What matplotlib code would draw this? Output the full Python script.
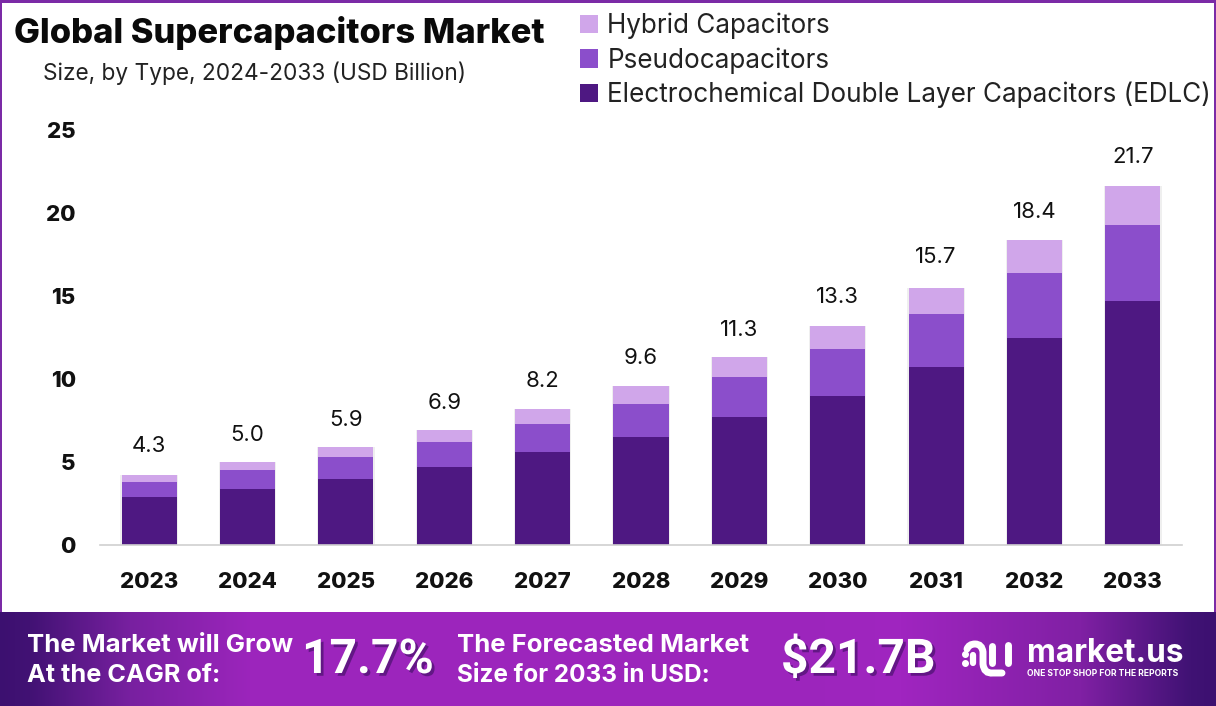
import numpy as np
import matplotlib
matplotlib.use("Agg")
import matplotlib.pyplot as plt
from matplotlib.patches import Rectangle, PathPatch
from matplotlib.path import Path
import matplotlib.patheffects as pe

years = ["2023", "2024", "2025", "2026", "2027", "2028", "2029", "2030", "2031", "2032", "2033"]
edlc = [2.9, 3.4, 4.0, 4.7, 5.6, 6.5, 7.7, 9.0, 10.7, 12.5, 14.7]
pseudo = [0.9, 1.1, 1.3, 1.5, 1.7, 2.0, 2.4, 2.8, 3.2, 3.9, 4.6]
hybrid = [0.4, 0.5, 0.6, 0.7, 0.9, 1.1, 1.2, 1.4, 1.6, 2.0, 2.3]
totals = ["4.3", "5.0", "5.9", "6.9", "8.2", "9.6", "11.3", "13.3", "15.7", "18.4", "21.7"]
yticks = [0, 5, 10, 15, 20, 25]

W, H = 1216, 706
FONT = "Inter"
plt.rcParams["font.family"] = [FONT, "DejaVu Sans"]

fig = plt.figure(figsize=(W / 100, H / 100), dpi=100, facecolor="white")

# overlay in pixel coords for border and banner
bg = fig.add_axes([0, 0, 1, 1])
bg.axis("off")

# banner gradient
stops_x = [0, 30, 130, 250, 800, 900, 1080, 1190, 1216]
r = [0x3c, 0x42, 0x78, 0x9c, 0x9c, 0xa0, 0x80, 0x40, 0x3c]
g = [0x10, 0x12, 0x20, 0x25, 0x25, 0x25, 0x20, 0x12, 0x10]
b = [0x70, 0x74, 0xa0, 0xbc, 0xbc, 0xc0, 0xa4, 0x74, 0x70]
xs = np.arange(W)
grad = np.stack([np.interp(xs, stops_x, c) / 255 for c in (r, g, b)], axis=-1)[None, :, :]
bg.imshow(grad, extent=(0, W, 706, 612), aspect="auto", zorder=1)
bg.set_xlim(0, W)
bg.set_ylim(H, 0)

# border
border = "#7b2aa6"
bg.add_patch(Rectangle((0, 0), W, 2.5, color=border, lw=0, zorder=2))
bg.add_patch(Rectangle((0, 0), 2, 612, color=border, lw=0, zorder=2))
bg.add_patch(Rectangle((W - 2, 0), 2, 612, color=border, lw=0, zorder=2))

# chart
ax = fig.add_axes([100 / W, 1 - 545 / H, 1082 / W, 415 / H], facecolor="none")
x = np.arange(len(years))
bottom2 = np.array(edlc) + np.array(pseudo)
tops = bottom2 + np.array(hybrid)
ax.bar(x, tops, width=0.585, color="#999999", alpha=0.15, zorder=1)
b1 = ax.bar(x, edlc, width=0.56, color="#4e1882", label="Electrochemical Double Layer Capacitors (EDLC)", zorder=2)
b2 = ax.bar(x, pseudo, width=0.56, bottom=edlc, color="#8b4ecb", label="Pseudocapacitors", zorder=2)
b3 = ax.bar(x, hybrid, width=0.56, bottom=bottom2, color="#d0a6ea", label="Hybrid Capacitors", zorder=2)
for xi, lab in zip(x, totals):
    ax.text(xi, float(lab) + 1.05, lab, ha="center", va="bottom", fontsize=16, color="#111111")

ax.set_xlim(-0.5, 10.5)
ax.set_ylim(0, 25)
ax.set_xticks(x, years, fontsize=16, fontweight="heavy", color="#111111")
ax.set_yticks(yticks, [str(t) for t in yticks], fontsize=16, fontweight="heavy", color="#111111")
ax.tick_params(length=0)
ax.tick_params(axis="x", pad=19.5)
ax.tick_params(axis="y", pad=17.5)
for s in ["top", "right", "left"]:
    ax.spines[s].set_visible(False)
ax.spines["bottom"].set_color("#d0d0d0")
ax.spines["bottom"].set_linewidth(1.2)

leg = fig.legend(handles=[b3, b2, b1], loc="upper left", bbox_to_anchor=(559 / W, 1 + 8 / H),
                 frameon=False, fontsize=18.8, handlelength=0.7, handleheight=0.7,
                 handletextpad=0.35, labelspacing=0.3, borderpad=0.3, labelcolor="#222222")

# title
bg.text(14, 33, "Global Supercapacitors Market", fontsize=24.85, fontweight="heavy", va="center", color="#0a0a0a", zorder=3)
bg.text(43, 73, "Size, by Type, 2024-2033 (USD Billion)", fontsize=16.3, va="center", color="#222222", zorder=3)

# banner texts
shade = [pe.withSimplePatchShadow(offset=(2, -2), shadow_rgbFace="#2a0a50", alpha=0.5)]
for tx, ty, s, fs in [(27, 645, "The Market will Grow", 18.5), (27, 675, "At the CAGR of:", 18.2),
                      (457, 646, "The Forecasted Market", 18.5), (457, 676, "Size for 2033 in USD:", 17.5)]:
    bg.text(tx, ty, s, fontsize=fs, fontweight="bold", va="center", color="white", zorder=3)
for tx, s in [(302, "17.7%"), (781, "$21.7B")]:
    bg.text(tx, 660, s, fontsize=34.5, fontweight="bold", family=["Roboto", "DejaVu Sans"], va="center",
            color="white", zorder=3, path_effects=shade)

# logo
C3, L, M = Path.CURVE3, Path.LINETO, Path.MOVETO
arch = Path([(967, 649), (969, 644), (975, 644), (982, 644), (983, 652), (983, 664),
             (984, 674), (993, 673), (1002, 673)],
            [M, C3, L, C3, L, L, C3, L, L])
bg.add_patch(PathPatch(arch, fc="none", ec="white", lw=5, capstyle="round", zorder=3))
bg.plot([992, 992], [646, 663], color="white", lw=5, solid_capstyle="round", zorder=3)
bg.plot([1008, 1008], [645, 663], color="white", lw=5, solid_capstyle="round", zorder=3)
bg.plot([973, 973], [655, 663], color="white", lw=4.5, solid_capstyle="round", zorder=3)
bg.plot([965, 965], [654, 663], color="white", lw=0, marker="o", ms=4, zorder=3)
bg.text(1027, 661.5, "market.us", fontsize=22.7, fontweight="bold", va="baseline", color="white", zorder=3)
bg.text(1027, 674, "ONE STOP SHOP FOR THE REPORTS", fontsize=6.2, fontweight="bold", va="center", color="white", zorder=3)

fig.savefig("out.png", dpi=100)
